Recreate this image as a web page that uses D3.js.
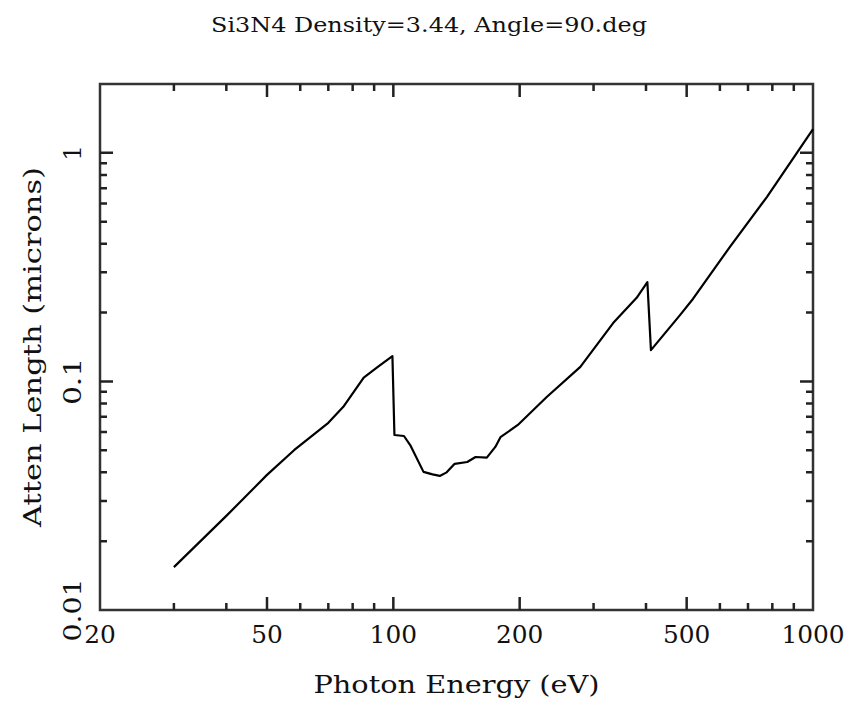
<!DOCTYPE html>
<html>
<head>
<meta charset="utf-8">
<script src="https://cdn.jsdelivr.net/npm/d3@7"></script>
<style>
  body { margin: 0; background: #fff; }
  text { font-family: "DejaVu Serif", "Liberation Serif", serif; fill: #111; }
  .frame { fill: none; stroke: #333; stroke-width: 2.5; }
  .ticks { fill: none; stroke: #222; stroke-width: 2.5; }
  .curve { fill: none; stroke: #000; stroke-width: 2.2; stroke-linejoin: round; }
</style>
</head>
<body>
<div id="chart"></div>
<script>
// photon energy (eV) and attenuation length (microns)
const energy = [30, 40, 50, 58, 70, 76, 85, 92, 99.5, 100.6, 106, 110, 118, 124, 129, 134, 140, 150, 157, 167, 175, 180, 198, 232, 279, 334, 380, 403, 411, 482, 518, 634, 777, 1000];
const atten  = [0.0154, 0.0258, 0.039, 0.050, 0.0659, 0.0774, 0.104, 0.116, 0.129, 0.0583, 0.0577, 0.0522, 0.0402, 0.0392, 0.0386, 0.040, 0.0436, 0.0444, 0.0467, 0.0464, 0.0517, 0.057, 0.0645, 0.0855, 0.1157, 0.180, 0.232, 0.272, 0.137, 0.195, 0.230, 0.388, 0.642, 1.27];

const xDomain = [20, 1000];
const yDomain = [0.01, 2];
const xLabels = [20, 50, 100, 200, 500, 1000];
const yLabels = [0.01, 0.1, 1];

const title = 'Si3N4 Density=3.44, Angle=90.deg';
const xTitle = 'Photon Energy (eV)';
const yTitle = 'Atten Length (microns)';

const W = 858, H = 708;
const margin = {top: 84, right: 45, bottom: 98, left: 100},
      width = W - margin.left - margin.right,
      height = H - margin.top - margin.bottom;

const svg = d3.select('#chart').append('svg')
    .attr('width', W)
    .attr('height', H);

svg.append('rect').attr('width', W).attr('height', H).attr('fill', '#fff');

const g = svg.append('g')
    .attr('transform', `translate(${margin.left},${margin.top})`);

const x = d3.scaleLog().domain(xDomain).range([0, width]);
const y = d3.scaleLog().domain(yDomain).range([height, 0]);

const bigTick = 13, smallTick = 7;
const isMajorX = v => xLabels.some(l => Math.abs(l - v) < 1e-6);
const isMajorY = v => yLabels.some(l => Math.abs(l - v) / l < 1e-6);

// 1..9 per decade inside the domain
const xTicks = x.ticks().filter(v => v > xDomain[0] && v < xDomain[1]);
const yTicks = y.ticks().filter(v => v > yDomain[0] * 1.0001 && v < yDomain[1] * 0.999);

g.append('rect').attr('class', 'frame')
    .attr('width', width).attr('height', height);

// tick marks on all four sides, one path
const tickPath = d3.path();
xTicks.forEach(v => {
  const len = isMajorX(v) ? bigTick : smallTick;
  tickPath.moveTo(x(v), height); tickPath.lineTo(x(v), height - len);
  tickPath.moveTo(x(v), 0); tickPath.lineTo(x(v), len);
});
yTicks.forEach(v => {
  const len = isMajorY(v) ? bigTick : smallTick;
  tickPath.moveTo(0, y(v)); tickPath.lineTo(len, y(v));
  tickPath.moveTo(width, y(v)); tickPath.lineTo(width - len, y(v));
});
g.append('path')
    .attr('class', 'ticks')
    .attr('d', tickPath.toString());

// tick labels
g.append('g').selectAll('text')
  .data(xLabels)
  .enter().append('text')
    .attr('x', d => x(d))
    .attr('y', height + 33)
    .attr('text-anchor', 'middle')
    .attr('textLength', d => String(d).length * 15.8)
    .attr('lengthAdjust', 'spacingAndGlyphs')
    .style('font-size', '24px')
    .text(d => d);

g.append('g').selectAll('text')
  .data(yLabels)
  .enter().append('text')
    .attr('transform', d => `translate(-19,${y(d)}) rotate(-90)`)
    .attr('text-anchor', 'middle')
    .attr('textLength', d => String(d).length * 15.8)
    .attr('lengthAdjust', 'spacingAndGlyphs')
    .style('font-size', '24px')
    .text(d => d);

// curve
const line = d3.line()
    .x(d => x(d[0]))
    .y(d => y(d[1]));

g.append('path')
    .datum(d3.zip(energy, atten))
    .attr('class', 'curve')
    .attr('d', line);

// titles
svg.append('text')
    .attr('x', W / 2)
    .attr('y', 32)
    .attr('text-anchor', 'middle')
    .attr('textLength', 436)
    .attr('lengthAdjust', 'spacingAndGlyphs')
    .style('font-size', '21px')
    .text(title);

svg.append('text')
    .attr('x', margin.left + width / 2)
    .attr('y', 693)
    .attr('text-anchor', 'middle')
    .attr('textLength', 286)
    .attr('lengthAdjust', 'spacingAndGlyphs')
    .style('font-size', '24px')
    .text(xTitle);

svg.append('text')
    .attr('transform', `translate(41,${margin.top + height / 2}) rotate(-90)`)
    .attr('text-anchor', 'middle')
    .attr('textLength', 360)
    .attr('lengthAdjust', 'spacingAndGlyphs')
    .style('font-size', '24px')
    .text(yTitle);
</script>
</body>
</html>
